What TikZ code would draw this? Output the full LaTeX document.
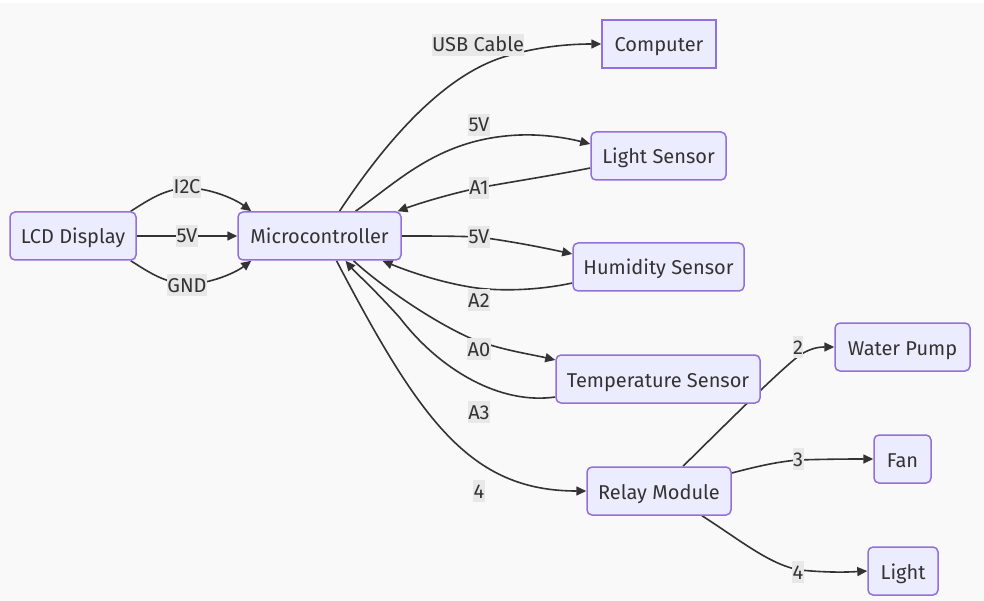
\documentclass[tikz,border=0pt]{standalone}
\usepackage{fontspec}
\setmainfont{Fira Sans}
\usetikzlibrary{arrows.meta,calc}
\definecolor{nodefill}{HTML}{ECECFF}
\definecolor{nodeborder}{HTML}{9370DB}
\definecolor{edgecol}{HTML}{333333}
\definecolor{lblfill}{HTML}{E8E8E8}
\definecolor{bgcol}{HTML}{F9F9F9}
\definecolor{txtcol}{HTML}{333333}
\pgfdeclarelayer{back}
\pgfdeclarelayer{edges}
\pgfsetlayers{back,edges,main}
\begin{document}
\begin{tikzpicture}[x=1pt,y=-1pt,
 box/.style={draw=nodeborder,fill=nodefill,line width=1.5pt,rounded corners=5pt,minimum height=48pt,inner sep=0pt,text height=20pt,text depth=4pt,font=\fontsize{20}{23}\selectfont,text=txtcol},
 sqbox/.style={box,rounded corners=0pt},
 lbl/.style={fill=lblfill,inner xsep=0.5pt,inner ysep=1pt,text height=17pt,text depth=3pt,font=\fontsize{20}{23}\selectfont,text=txtcol},
 edge/.style={draw=edgecol,line width=1.6pt},
 arr/.style={edge,-{Triangle[length=10pt,width=9pt]}}]
\useasboundingbox (0,0) rectangle (984,601);
\begin{pgfonlayer}{back}
\fill[white] (0,0) rectangle (984,601);
\fill[bgcol] (0,3) rectangle (984,601);
\end{pgfonlayer}
% nodes
\node[box,minimum width=126pt] (lcd) at (73,236) {LCD Display};
\node[box,minimum width=163pt] (mc) at (319.5,236) {Microcontroller};
\node[sqbox,minimum width=114pt] (comp) at (659,44) {Computer};
\node[box,minimum width=135pt] (ls) at (658.5,156) {Light Sensor};
\node[box,minimum width=171pt] (hs) at (658.5,267) {Humidity Sensor};
\node[box,minimum width=204pt] (ts) at (658,379) {Temperature Sensor};
\node[box,minimum width=144pt] (rm) at (659,491) {Relay Module};
\node[box,minimum width=135pt] (wp) at (902.5,347) {Water Pump};
\node[box,minimum width=57pt] (fan) at (902.5,459) {Fan};
\node[box,minimum width=70pt] (lt) at (903,571) {Light};
% edges
\begin{pgfonlayer}{edges}
\draw[arr] ($(lcd.north east)+(-6,0)$) .. controls (150,199) and (165,189) .. (187,188) .. controls (210,188) and (235,199) .. ($(mc.north west)+(14,0)$);
\draw[arr] (lcd.east) -- (mc.west);
\draw[arr] ($(lcd.south east)+(-6,0)$) .. controls (150,273) and (165,283) .. (187,284) .. controls (210,284) and (235,273) .. ($(mc.south west)+(14,0)$);
\draw[arr] ($(mc.north)+(20,0)$) .. controls (380,150) and (440,75) .. (507,56) .. controls (530,49) and (560,44) .. (comp.west);
\draw[arr] ($(mc.north)+(36,0)$) .. controls (400,180) and (440,138) .. (520,135) .. controls (550,134) and (575,140) .. ($(ls.west)+(0,-12)$);
\draw[arr] ($(ls.west)+(0,12)$) .. controls (550,176) and (510,182) .. (478,188) .. controls (450,194) and (420,203) .. ($(mc.north)+(78,0)$);
\draw[arr] (mc.east) .. controls (430,236) and (455,236) .. (478,237) .. controls (510,241) and (545,248) .. ($(hs.west)+(0,-13)$);
\draw[arr] ($(hs.west)+(0,16)$) .. controls (540,290) and (500,292) .. (470,287) .. controls (440,282) and (410,272) .. ($(mc.south)+(63,0)$);
\draw[arr] ($(mc.south)+(34,0)$) .. controls (380,285) and (430,320) .. (470,338) .. controls (500,350) and (530,354) .. ($(ts.west)+(0,-19)$);
\draw[arr] ($(ts.west)+(0,18)$) .. controls (500,405) and (440,370) .. (400,318) .. controls (375,290) and (355,272) .. ($(mc.south)+(26,0)$);
\draw[arr] ($(mc.south)+(17,0)$) .. controls (420,420) and (470,491) .. (rm.west);
\draw[arr] ($(rm.north)+(24,0)$) .. controls (730,420) and (780,370) .. (800,355) .. controls (812,347) and (822,347) .. (wp.west);
\draw[arr] ($(rm.east)+(0,-18)$) .. controls (755,467) and (775,462) .. (798,460) .. controls (830,459) and (855,459) .. (fan.west);
\draw[arr] ($(rm.south)+(43,0)$) .. controls (740,540) and (770,565) .. (800,570) .. controls (830,573) and (850,572) .. (lt.west);
\end{pgfonlayer}
% edge labels
\node[lbl] (l1) at (187,187) {I2C};
\node[lbl] (l2) at (187,236) {5V};
\node[lbl] (l3) at (187,285) {GND};
\node[lbl] (l4) at (478,45) {USB Cable};
\node[lbl] (l5) at (479,125) {5V};
\node[lbl] (l6) at (479,188) {A1};
\node[lbl] (l7) at (479,237) {5V};
\node[lbl] (l8) at (479,300) {A2};
\node[lbl] (l9) at (479,349) {A0};
\node[lbl] (l10) at (479,412) {A3};
\node[lbl] (l11) at (479,491) {4};
\node[lbl] (l12) at (798,347) {2};
\node[lbl] (l13) at (798,459) {3};
\node[lbl] (l14) at (798,572) {4};
\end{tikzpicture}
\end{document}
